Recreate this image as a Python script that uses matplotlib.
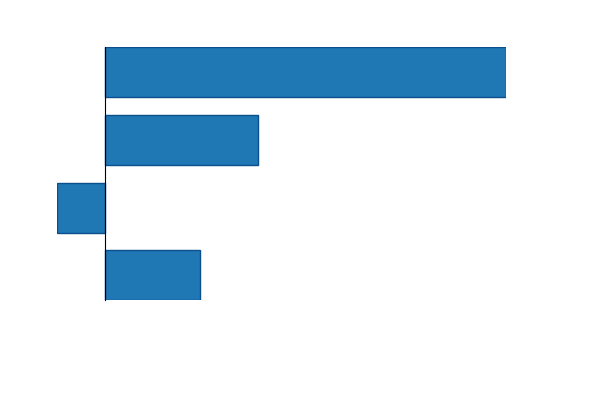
import numpy as np
import matplotlib
matplotlib.use('Agg')
import matplotlib.pyplot as plt

# bar values, top to bottom
categories = ['A', 'B', 'C', 'D']
values = [42, 16, -5, 10]

fig = plt.figure(figsize=(6, 4), dpi=100)
# axes box fitted tightly around the bars
ax = fig.add_axes([57.3 / 600, 1 - 300.3 / 400, (505.7 - 57.3) / 600, (300.3 - 47.3) / 400])

y = np.arange(len(categories))
bar_h = 0.74
ax.barh(y, values, height=bar_h, color='#1f77b4', edgecolor='#0b4f8c', linewidth=1)

ax.set_xlim(min(values), max(values))
ax.set_ylim(len(categories) - 1 + bar_h / 2, -bar_h / 2)

#only keep the zero line on the left
for side in ['top', 'right', 'bottom']:
    ax.spines[side].set_visible(False)
ax.spines['left'].set_position(('data', 0))
ax.spines['left'].set_zorder(3)
ax.set_xticks([])
ax.set_yticks([])

fig.savefig('out.png', dpi=100)
